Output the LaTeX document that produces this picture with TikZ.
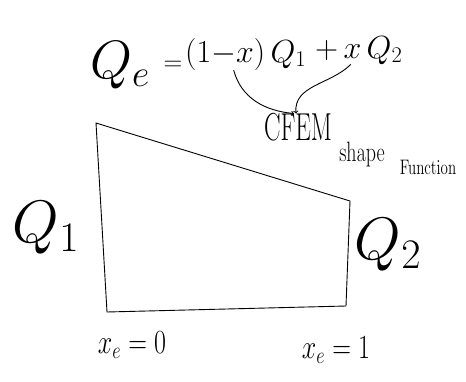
\RequirePackage{fix-cm}
\documentclass[tikz,border=0pt]{standalone}
\usepackage{amsmath}
\usepackage{anyfontsize}

\begin{document}
\begin{tikzpicture}[x=1pt, y=-1pt,
    ink/.style={line width=0.9pt, black},
    huge/.style={font=\fontsize{60}{70}\selectfont, inner sep=0pt},
    big/.style={font=\fontsize{32}{38}\selectfont, inner sep=0pt},
    mid/.style={font=\fontsize{26}{30}\selectfont, inner sep=0pt}]
    % page = 466 x 381
    \useasboundingbox (0,0) rectangle (466,381);

    % Interpolation formula
    \node[font=\fontsize{54}{62}\selectfont, inner sep=0pt, anchor=base west] (qe) at (90,78) {$Q_e$};
    \node[mid] (eq) at (173,66) {$=$};
    \node[big, anchor=base west] (term1) at (185,62) {$(1{-}x)\,Q_1$};
    \node[big, anchor=base west] (term2) at (315,58) {$+\,x\,Q_2$};

    % CFEM shape function label
    \node[mid] (cfem) at (298,127) {\scalebox{0.95}[1.5]{$\mathrm{CFEM}$}};
    \node[font=\fontsize{20}{24}\selectfont, inner sep=0pt] (shape) at (362,154) {\scalebox{1}[1.4]{$\mathrm{shape}$}};
    \node[font=\fontsize{15}{18}\selectfont, inner sep=0pt] (func) at (428,167) {\scalebox{1}[1.4]{$\mathrm{Function}$}};

    % Arrows to the label
    \draw[ink, ->] ([xshift=-12pt]term1.south) to[out=-75, in=175] ([xshift=-4pt]cfem.north);
    \draw[ink, ->] ([xshift=-8pt]term2.south) to[out=-135, in=95] ([xshift=-2pt]cfem.north);

    % Element
    \coordinate (tl) at (96,123);
    \coordinate (bl) at (107,312);
    \coordinate (br) at (346,306);
    \coordinate (tr) at (350,201);
    \draw[ink] (tl) -- (bl) -- (br) -- (tr) -- cycle;

    % Node values
    \node[huge] (q1) at (46,228) {$Q_1$};
    \node[huge] (q2) at (388,245) {$Q_2$};

    % End coordinates
    \node[mid] (x0) at (132,345) {\scalebox{1}[1.3]{$x_e=0$}};
    \node[mid] (x1) at (336,350) {\scalebox{1}[1.3]{$x_e=1$}};
\end{tikzpicture}
\end{document}
